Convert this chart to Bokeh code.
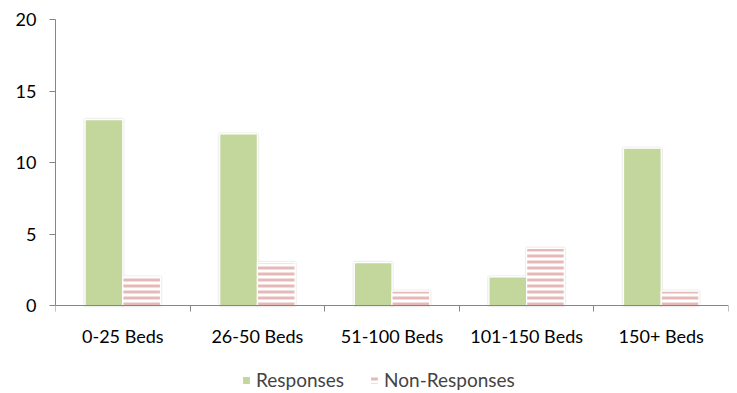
from bokeh.plotting import figure
from bokeh.models import (Range1d, FixedTicker, ColumnDataSource, Legend, LegendItem,
                          LinearAxis)
from bokeh.embed import file_html
from bokeh.resources import INLINE
import numpy as np

categories = ["0-25 Beds", "26-50 Beds", "51-100 Beds", "101-150 Beds", "150+ Beds"]
responses = [13, 12, 3, 2, 11]
non_responses = [2, 3, 1, 4, 1]
y_ticks = [0, 5, 10, 15, 20]

GREEN = "#c3d69b"
PINK = "#e6b9b8"
AXIS = "#868686"
FONT = "Lato"
FONT_SIZE = "18px"

n = len(categories)
centers = np.arange(n) + 0.5
bar_w = 0.28

src = ColumnDataSource(dict(
    x_resp=centers - bar_w / 2,
    x_non=centers + bar_w / 2,
    responses=responses,
    non_responses=non_responses,
))

# frame runs to the bottom edge; the space under zero holds labels and legend
p = figure(width=737, height=393, output_backend="svg", toolbar_location=None,
           x_range=Range1d(0, n), y_range=Range1d(-88 / 14.3, 20),
           x_axis_type=None, y_axis_type=None,
           min_border_left=55, min_border_right=9, min_border_top=19,
           min_border_bottom=0)
p.outline_line_color = None
p.xgrid.visible = False
p.ygrid.visible = False

# soft grey edge behind each bar
for xcol, ycol in (("x_resp", "responses"), ("x_non", "non_responses")):
    p.vbar(x=xcol, top=ycol, width=bar_w, source=src, fill_color=None,
           line_color="#bfbfbf", line_width=3.5, line_alpha=0.25)

r1 = p.vbar(x="x_resp", top="responses", width=bar_w, source=src,
            fill_color=GREEN, line_color="white", line_width=1.2)
r2 = p.vbar(x="x_non", top="non_responses", width=bar_w, source=src,
            fill_color="white", line_color="white", line_width=1.2,
            hatch_pattern="horizontal_line", hatch_color=PINK,
            hatch_scale=6, hatch_weight=3)

# value axis
yax = LinearAxis(ticker=FixedTicker(ticks=y_ticks), bounds=(0, 20))
yax.axis_line_color = AXIS
yax.major_tick_line_color = AXIS
yax.major_tick_out = 6
yax.major_tick_in = 0
yax.minor_tick_line_color = None
yax.major_label_text_font = FONT
yax.major_label_text_font_size = FONT_SIZE
yax.major_label_text_color = "black"
yax.major_label_standoff = 13
p.add_layout(yax, "left")

# category axis at y=0: labels at centres, tick marks at category boundaries
xax = LinearAxis(ticker=FixedTicker(ticks=list(centers), minor_ticks=list(range(n + 1))),
                 fixed_location=0)
xax.major_label_overrides = {float(c): lab for c, lab in zip(centers, categories)}
xax.axis_line_color = AXIS
xax.major_tick_line_color = None
xax.major_tick_out = 0
xax.major_tick_in = 0
xax.minor_tick_line_color = AXIS
xax.minor_tick_out = 6
xax.minor_tick_in = 0
xax.major_label_text_font = FONT
xax.major_label_text_font_size = FONT_SIZE
xax.major_label_text_color = "black"
xax.major_label_standoff = 13
p.add_layout(xax, "below")

legend = Legend(items=[LegendItem(label="Responses", renderers=[r1]),
                       LegendItem(label="Non-Responses", renderers=[r2])],
                orientation="horizontal", location=(186, 2))
legend.border_line_color = None
legend.background_fill_alpha = 0
legend.label_text_font = FONT
legend.label_text_font_size = "19px"
legend.glyph_width = 10
legend.glyph_height = 10
legend.spacing = 25
legend.label_standoff = 5
legend.padding = 0
legend.margin = 0
p.add_layout(legend, "center")

open("out.html", "w").write(file_html(p, INLINE))
